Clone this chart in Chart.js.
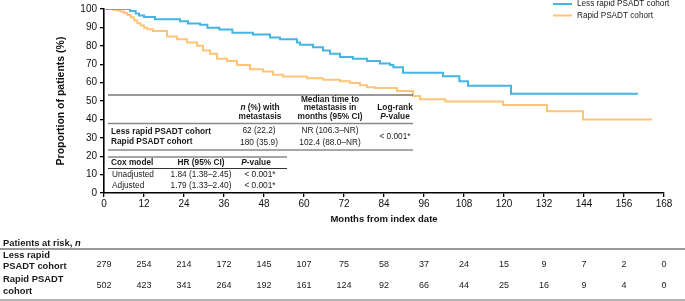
<!DOCTYPE html>
<html lang="en">
<head>
<meta charset="UTF-8">
<title>Time to metastasis by PSADT cohort</title>
<script src="https://cdn.jsdelivr.net/npm/chart.js@4.4.0/dist/chart.umd.min.js"></script>
<style>
  body { margin: 0; background: #fff; }
  #wrap { width: 685px; height: 301px; position: relative; }
</style>
</head>
<body>
<div id="wrap"><canvas id="km"></canvas></div>
<script>
// Kaplan-Meier steps (months, % without metastasis)
const lessMonths = [0, 7.8, 9.5, 10.5, 12, 15.3, 22.8, 25.2, 28.8, 31, 34.6, 38.5, 44.7, 49.8, 52.8, 57.9, 58.8, 62.7, 65.7, 67.8, 70.8, 74.7, 78.9, 82.8, 85.8, 86.8, 89.7, 101.7, 106.6, 109.2, 122.1, 160.2];
const lessSurv   = [100, 98.9, 97.5, 96.5, 95.7, 94.4, 93.3, 92.1, 91.5, 89.8, 88.9, 87.1, 86.2, 84.5, 83.6, 81.8, 80.6, 79.2, 77.4, 75.7, 73.9, 73.0, 71.8, 70.4, 69.5, 68.3, 65.4, 63.5, 60.7, 58.3, 54.0, 54.0];

const rapidMonths = [0, 2.7, 4, 5, 6, 7, 8, 9, 10, 11, 12, 13, 14.7, 18.9, 21.9, 24.9, 27.9, 29.7, 31.8, 33.9, 36.9, 39.9, 43.8, 47.7, 50.7, 53.7, 60.9, 65.7, 70.8, 73.8, 76.8, 78.9, 81.3, 87.9, 92.7, 94.8, 102.4, 119.7, 132.9, 143.7, 164.4];
const rapidSurv   = [100, 99.6, 99.2, 98.6, 97.8, 96.8, 95.5, 93.8, 92.2, 91.0, 89.8, 89.0, 88.0, 85.0, 83.6, 81.8, 80.0, 77.4, 75.7, 73.0, 71.8, 69.5, 67.2, 66.0, 64.2, 63.3, 62.4, 61.5, 60.7, 59.8, 58.5, 57.5, 57.1, 55.4, 52.7, 51.0, 49.7, 47.8, 44.4, 40.0, 40.0];

const seriesNames = ['Less rapid PSADT cohort', 'Rapid PSADT cohort'];
const seriesColors = ['#45b5e2', '#fdc577'];

// patients at risk
const riskMonths = [0, 12, 24, 36, 48, 60, 72, 84, 96, 108, 120, 132, 144, 156, 168];
const riskLess  = [279, 254, 214, 172, 145, 107, 75, 58, 37, 24, 15, 9, 7, 2, 0];
const riskRapid = [502, 423, 341, 264, 192, 161, 124, 92, 66, 44, 25, 16, 9, 4, 0];

const FF = '"Liberation Sans", Arial, Helvetica, sans-serif';

function pts(xs, ys) {
  return xs.map((x, i) => ({ x: x, y: ys[i] }));
}

function hline(ctx, y, x1, x2, color, w) {
  ctx.save();
  ctx.strokeStyle = color;
  ctx.lineWidth = w;
  ctx.beginPath();
  ctx.moveTo(x1, y);
  ctx.lineTo(x2, y);
  ctx.stroke();
  ctx.restore();
}

// parts: [[text, font], ...]
function rich(ctx, parts, x, y, align) {
  let total = 0;
  parts.forEach(p => { ctx.font = p[1]; total += ctx.measureText(p[0]).width; });
  let cx = x;
  if (align === 'center') cx = x - total / 2;
  else if (align === 'right') cx = x - total;
  ctx.textAlign = 'left';
  ctx.textBaseline = 'middle';
  parts.forEach(p => {
    ctx.font = p[1];
    ctx.fillText(p[0], cx, y);
    cx += ctx.measureText(p[0]).width;
  });
}

const tablePlugin = {
  id: 'tables',
  afterDraw(chart) {
    const ctx = chart.ctx;
    const xs = chart.scales.x;
    ctx.save();
    ctx.fillStyle = '#1a1a1a';

    // legend
    ctx.lineWidth = 2;
    seriesNames.forEach((name, i) => {
      const y = 4 + i * 11.5;
      ctx.strokeStyle = seriesColors[i];
      ctx.beginPath(); ctx.moveTo(553, y); ctx.lineTo(572, y); ctx.stroke();
      rich(ctx, [[name, '8.2px ' + FF]], 577, y, 'left');
    });

    // table inside the plot
    const B = 'bold 8.3px ' + FF, BI = 'italic bold 8.3px ' + FF, R = '8.3px ' + FF;
    hline(ctx, 95, 108, 413, '#333', 1);
    rich(ctx, [['n', BI], [' (%) with', B]], 260, 108, 'center');
    rich(ctx, [['metastasis', B]], 260, 117, 'center');
    rich(ctx, [['Median time to', B]], 330, 100, 'center');
    rich(ctx, [['metastasis in', B]], 330, 108, 'center');
    rich(ctx, [['months (95% CI)', B]], 330, 117, 'center');
    rich(ctx, [['Log-rank', B]], 395, 108, 'center');
    rich(ctx, [['P', BI], ['-value', B]], 395, 117, 'center');
    hline(ctx, 123.5, 108, 413, '#888', 1.5);
    rich(ctx, [['Less rapid PSADT cohort', B]], 111, 132, 'left');
    rich(ctx, [['Rapid PSADT cohort', B]], 111, 142, 'left');
    rich(ctx, [['62 (22.2)', R]], 259, 131, 'center');
    rich(ctx, [['180 (35.9)', R]], 259, 143, 'center');
    rich(ctx, [['NR (106.3\u2013NR)', R]], 330, 131, 'center');
    rich(ctx, [['102.4 (88.0\u2013NR)', R]], 330, 143, 'center');
    rich(ctx, [['< 0.001*', R]], 395, 137, 'center');
    hline(ctx, 150, 108, 413, '#888', 1.5);
    hline(ctx, 157, 108, 287, '#888', 1.5);
    rich(ctx, [['Cox model', B]], 111, 163, 'left');
    rich(ctx, [['HR (95% CI)', B]], 201, 163, 'center');
    rich(ctx, [['P', BI], ['-value', B]], 256, 163, 'center');
    hline(ctx, 168.5, 108, 287, '#333', 1);
    rich(ctx, [['Unadjusted', R]], 112, 174.5, 'left');
    rich(ctx, [['Adjusted', R]], 112, 186, 'left');
    rich(ctx, [['1.84 (1.38\u20132.45)', R]], 201, 174.5, 'center');
    rich(ctx, [['1.79 (1.33\u20132.40)', R]], 201, 186, 'center');
    rich(ctx, [['< 0.001*', R]], 260, 174.5, 'center');
    rich(ctx, [['< 0.001*', R]], 260, 186, 'center');

    // patients at risk
    const RB = 'bold 9.4px ' + FF, RBI = 'italic bold 9.4px ' + FF, RV = '9px ' + FF;
    rich(ctx, [['Patients at risk, ', RB], ['n', RBI]], 3, 243, 'left');
    hline(ctx, 249, 0, 685, '#999', 2);
    rich(ctx, [['Less rapid', RB]], 3, 255, 'left');
    rich(ctx, [['PSADT cohort', RB]], 3, 266, 'left');
    rich(ctx, [['Rapid PSADT', RB]], 3, 279.5, 'left');
    rich(ctx, [['cohort', RB]], 3, 291, 'left');
    riskMonths.forEach((m, i) => {
      const x = xs.getPixelForValue(m);
      rich(ctx, [[String(riskLess[i]), RV]], x, 265, 'center');
      rich(ctx, [[String(riskRapid[i]), RV]], x, 285.5, 'center');
    });
    hline(ctx, 300, 0, 685, '#999', 1.5);
    ctx.restore();
  }
};

new Chart(document.getElementById('km'), {
  type: 'line',
  data: {
    datasets: [
      { label: seriesNames[0], data: pts(lessMonths, lessSurv), borderColor: seriesColors[0], borderWidth: 2, stepped: true, pointRadius: 0, fill: false },
      { label: seriesNames[1], data: pts(rapidMonths, rapidSurv), borderColor: seriesColors[1], borderWidth: 2, stepped: true, pointRadius: 0, fill: false }
    ]
  },
  options: {
    responsive: true,
    maintainAspectRatio: false,
    animation: false,
    layout: { padding: { left: 51, right: 21, top: 4, bottom: 72 } },
    plugins: { legend: { display: false }, tooltip: { enabled: false } },
    scales: {
      x: {
        type: 'linear', min: 0, max: 168,
        afterFit: s => { s.height = 36; },
        ticks: { stepSize: 12, color: '#111', padding: 1, maxRotation: 0, font: { family: FF, size: 10 } },
        grid: { drawOnChartArea: false, tickLength: 4, color: '#000', lineWidth: 1.3 },
        border: { color: '#000', width: 1.6 },
        title: { display: true, text: 'Months from index date', color: '#111', font: { family: FF, size: 9.5, weight: 'bold' } }
      },
      y: {
        min: 0, max: 100,
        afterFit: s => { s.width = 53; },
        ticks: { stepSize: 10, color: '#111', padding: 3, font: { family: FF, size: 10 } },
        grid: { drawOnChartArea: false, tickLength: 4, color: '#000', lineWidth: 1.3 },
        border: { color: '#000', width: 1.6 },
        title: { display: true, text: 'Proportion of patients (%)', color: '#111', font: { family: FF, size: 10.5, weight: 'bold' } }
      }
    }
  },
  plugins: [tablePlugin]
});
</script>
</body>
</html>
